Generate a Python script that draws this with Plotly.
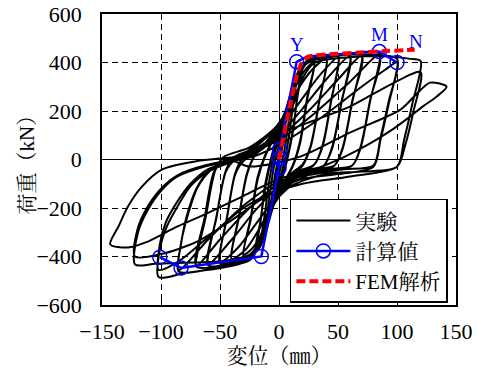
import plotly.graph_objects as go

# ---------------- data ----------------
# Experimental load-displacement path (実験), read from the picture cycle by cycle
exp_disp = [
    0,
    2.5, 5, 3, 0, -2.5, -5, -3, 0,
    4, 7, 10, 8, 5, 1, -4, -7, -10, -8, -5, -1,
    4, 8, 12, 15, 12, 8, 3, -3, -8, -12, -15, -12, -8, -3,
    2, 8, 14, 20, 16, 12, 7, 2, -5, -11, -16, -20, -16, -12, -7, -2,
    4, 10, 16, 20, 16, 11, 6, 0, -6, -12, -17, -20, -16, -11, -6,
    0, 8, 15, 22, 30, 24, 18, 12, 3, -5, -12, -20, -30, -24, -18, -12,
    -3, 5, 15, 24, 30, 24, 18, 12, 2, -8, -18, -26, -30, -24, -18, -12,
    -4, 5, 14, 22, 30, 40, 34, 27, 20, 10, 2, -8, -16, -23, -30, -40, -34, -27, -20,
    -8, 3, 15, 28, 40, 34, 27, 20, 8, -4, -16, -28, -40, -34, -27, -20,
    -10, -2, 9, 16, 24, 38, 50, 44, 37, 30, 10, 2, -9, -16, -24, -38, -50, -44, -37, -30,
    -15, 0, 18, 35, 50, 44, 37, 30, 15, 0, -18, -35, -50, -44, -37, -30,
    -16, -2, 9, 16, 24, 40, 60, 53, 45, 38, 22, 10, 2, -9, -16, -24, -40, -60, -53, -45, -38,
    -20, 0, 20, 40, 60, 53, 45, 38, 20, 0, -20, -40, -60, -53, -45, -38,
    -22, -2, 9, 16, 24, 45, 70, 62, 54, 47, 30, 15, 2, -9, -16, -24, -45, -70, -63, -55, -47,
    -25, 0, 25, 50, 70, 62, 54, 47, 25, 0, -25, -50, -70, -62, -54, -47,
    -25, -2, 9, 16, 24, 50, 85, 77, 69, 62, 40, 20, 2, -9, -16, -24, -50, -85, -83, -78, -70, -60, -45,
    -30, 0, 30, 60, 85, 77, 69, 62, 30, 0, -30, -60, -85, -83, -77, -69, -58, -40,
    -25, -2, 9, 16, 24, 50, 75, 100, 93, 86, 80, 55, 30, 10, 2, -9, -16, -24, -50, -80, -102,
    -101, -95, -86, -75, -60, -40,
    -20, 0, 35, 70, 90, 100, 93, 86, 80, 50, 20, 0, -30, -60, -85, -102,
    -101, -96, -87, -75, -60, -40,
    -20, 0, 12, 20, 30, 60, 90, 110, 120, 113, 106, 100, 70, 40, 10, -5, -14, -24, -50, -80, -105, -122,
    -119.5, -111, -99, -86, -63, -40,
    -25, 3, 32, 60, 95, 120, 114, 107, 100, 60, 20, -10, -40, -70, -100, -122,
    -120, -112, -100, -86, -63, -40,
    -25, 18, 60, 103, 115, 128, 142, 134, 122, 111, 95, 75, 55, 30, 0, -30, -60, -86, -113, -128, -143,
    -136, -128, -116, -99, -71, -31,
]
exp_load = [
    0,
    65, 120, 55, -15, -65, -120, -55, 15,
    110, 180, 230, 150, 50, -40, -115, -175, -225, -150, -50, 40,
    130, 210, 285, 330, 230, 80, -40, -125, -215, -285, -325, -225, -80, 40,
    130, 235, 330, 390, 280, 120, 0, -90, -195, -295, -360, -380, -270, -110, 0, 90,
    175, 275, 360, 385, 270, 100, -10, -105, -205, -305, -365, -375, -260, -100, 10,
    115, 235, 335, 392, 410, 260, 80, -20, -105, -195, -305, -385, -400, -250, -80, 10,
    100, 190, 310, 380, 402, 250, 70, -25, -115, -225, -335, -382, -392, -240, -70, 15,
    95, 195, 320, 390, 410, 420, 240, 60, -20, -60, -125, -225, -335, -392, -405, -415, -240, -60, 20,
    70, 160, 280, 370, 416, 235, 55, -25, -80, -170, -280, -370, -410, -235, -55, 20,
    60, 132, 222, 332, 400, 418, 425, 240, 60, -20, -60, -132, -222, -332, -400, -420, -428, -240, -60, -5,
    40, 120, 240, 350, 420, 235, 55, -20, -70, -140, -255, -365, -422, -235, -55, 10,
    45, 133, 224, 334, 402, 422, 430, 240, 50, -25, -45, -70, -134, -224, -336, -404, -428, -436, -240, -50, -5,
    30, 100, 210, 330, 426, 235, 45, -25, -60, -110, -210, -330, -432, -235, -45, 10,
    45, 135, 225, 336, 404, 424, 432, 240, 50, -25, -40, -60, -136, -226, -338, -406, -432, -442, -240, -50, -5,
    30, 90, 200, 330, 428, 235, 45, -25, -60, -100, -200, -330, -438, -235, -45, 10,
    50, 137, 227, 338, 406, 428, 436, 240, 50, -25, -40, -60, -138, -228, -340, -410, -442, -462, -350, -230, -120, -50, -5,
    20, 80, 190, 320, 432, 235, 45, -25, -60, -90, -190, -330, -456, -345, -225, -115, -45, 0,
    40, 138, 228, 340, 408, 430, 432, 415, 240, 90, -25, -40, -55, -100, -140, -230, -342, -412, -448, -468, -485,
    -371, -276, -194, -110, -50, -10,
    15, 60, 170, 300, 370, 400, 230, 80, -30, -60, -80, -120, -200, -320, -420, -455,
    -350, -260, -180, -100, -40, -5,
    25, 105, 225, 335, 398, 422, 426, 416, 406, 230, 80, -30, -50, -60, -110, -185, -300, -390, -420, -426, -430, -433,
    -301, -206, -124, -70, -29, -5,
    29, 111, 165, 218, 310, 360, 200, 60, -30, -70, -100, -150, -250, -340, -390, -400,
    -290, -200, -120, -65, -25, -5,
    -29, 12, 111, 206, 262, 317, 300, 261, 219, 177, 120, 60, 10, -40, -80, -150, -220, -276, -342, -363, -350,
    -276, -194, -111, -41, -8, 12,
]

# Calculated skeleton curve (計算値); calc_circle marks the points drawn with a circle
calc_disp = [-101, -83, -15, 0, 0, 0.5, 15, 24, 85, 100]
calc_load = [-403, -447, -400, -37, 4, 41, 403, 425, 445, 400]
calc_circle = [True, True, True, True, True, True, True, False, True, True]
calc_point_names = {6: "Y", 8: "M", 9: "N"}

# FEM analysis (FEM解析)
fem_disp = [0, 9, 15, 19, 25, 45, 65, 90, 115]
fem_load = [0, 215, 345, 398, 425, 435, 440, 447, 453]

x_ticks = [-150, -100, -50, 0, 50, 100, 150]
y_ticks = [-600, -400, -200, 0, 200, 400, 600]

# ---------------- figure ----------------
SERIF = "Liberation Serif, Noto Serif CJK JP, Noto Sans CJK JP, serif"
BLUE = "#0000FF"
RED = "#FF0000"

fig = go.Figure()

fig.add_trace(go.Scatter(
    x=exp_disp, y=exp_load, mode="lines", name="実験",
    line=dict(color="black", width=2, shape="spline", smoothing=0.8),
))

# calculated: line through all points, circles only on marked points
fig.add_trace(go.Scatter(
    x=calc_disp, y=calc_load, mode="lines", showlegend=False,
    line=dict(color=BLUE, width=2.5), hoverinfo="skip",
))
cx = [x for x, c in zip(calc_disp, calc_circle) if c]
cy = [y for y, c in zip(calc_load, calc_circle) if c]
fig.add_trace(go.Scatter(
    x=cx, y=cy, mode="markers", showlegend=False,
    marker=dict(symbol="circle-open", size=14, color=BLUE, line=dict(width=1.5, color=BLUE)),
))
# legend entry for the calculated curve
fig.add_trace(go.Scatter(
    x=[None], y=[None], mode="lines+markers", name="計算値",
    line=dict(color=BLUE, width=2.5),
    marker=dict(symbol="circle-open", size=14, color=BLUE, line=dict(width=1.5, color=BLUE)),
))

fig.add_trace(go.Scatter(
    x=fem_disp, y=fem_load, mode="lines", name="FEM解析",
    line=dict(color=RED, width=4, dash="9px,4px", shape="spline", smoothing=0.4),
))

# point labels Y, M, N
for i, label in calc_point_names.items():
    fig.add_annotation(
        x=calc_disp[i], y=calc_load[i], text=label, showarrow=False,
        xshift=19 if label == "N" else 0, yshift=21 if label == "N" else 17,
        font=dict(family=SERIF, size=19, color=BLUE),
    )

# y-axis title placed as a rotated annotation
fig.add_annotation(
    xref="paper", yref="paper", x=-0.212, y=0.5, text="荷重（kN）",
    textangle=-90, showarrow=False, xanchor="center", yanchor="middle",
    font=dict(family=SERIF, size=21, color="black"),
)

axis_common = dict(
    showline=True, linecolor="black", linewidth=1.5, mirror=True,
    ticks="inside", ticklen=5, tickcolor="black", tickwidth=1,
    showgrid=True, gridcolor="black", gridwidth=1, griddash="6px,4px",
    zeroline=True, zerolinecolor="black", zerolinewidth=1.3,
    tickfont=dict(family=SERIF, size=22, color="black"),
)

fig.update_xaxes(
    range=[-150, 150], tickvals=x_ticks, ticklabelstandoff=6,
    title=dict(text="変位（㎜）", font=dict(family=SERIF, size=21), standoff=0),
    **axis_common,
)
fig.update_yaxes(
    range=[-600, 600], tickvals=y_ticks, ticklabelstandoff=14,
    **axis_common,
)

fig.update_layout(
    width=478, height=372,
    margin=dict(l=102, r=22, t=14, b=67, autoexpand=False),
    paper_bgcolor="white", plot_bgcolor="white",
    font=dict(family=SERIF, size=21, color="black"),
    legend=dict(
        x=0.977, y=0.007, xanchor="right", yanchor="bottom",
        bgcolor="white", bordercolor="black", borderwidth=1.5,
        font=dict(family=SERIF, size=21, color="black"),
        itemwidth=54, tracegroupgap=0,
    ),
)

fig.write_html("out.html", config={"displayModeBar": False},
               post_script="document.body.style.margin='0px';")
